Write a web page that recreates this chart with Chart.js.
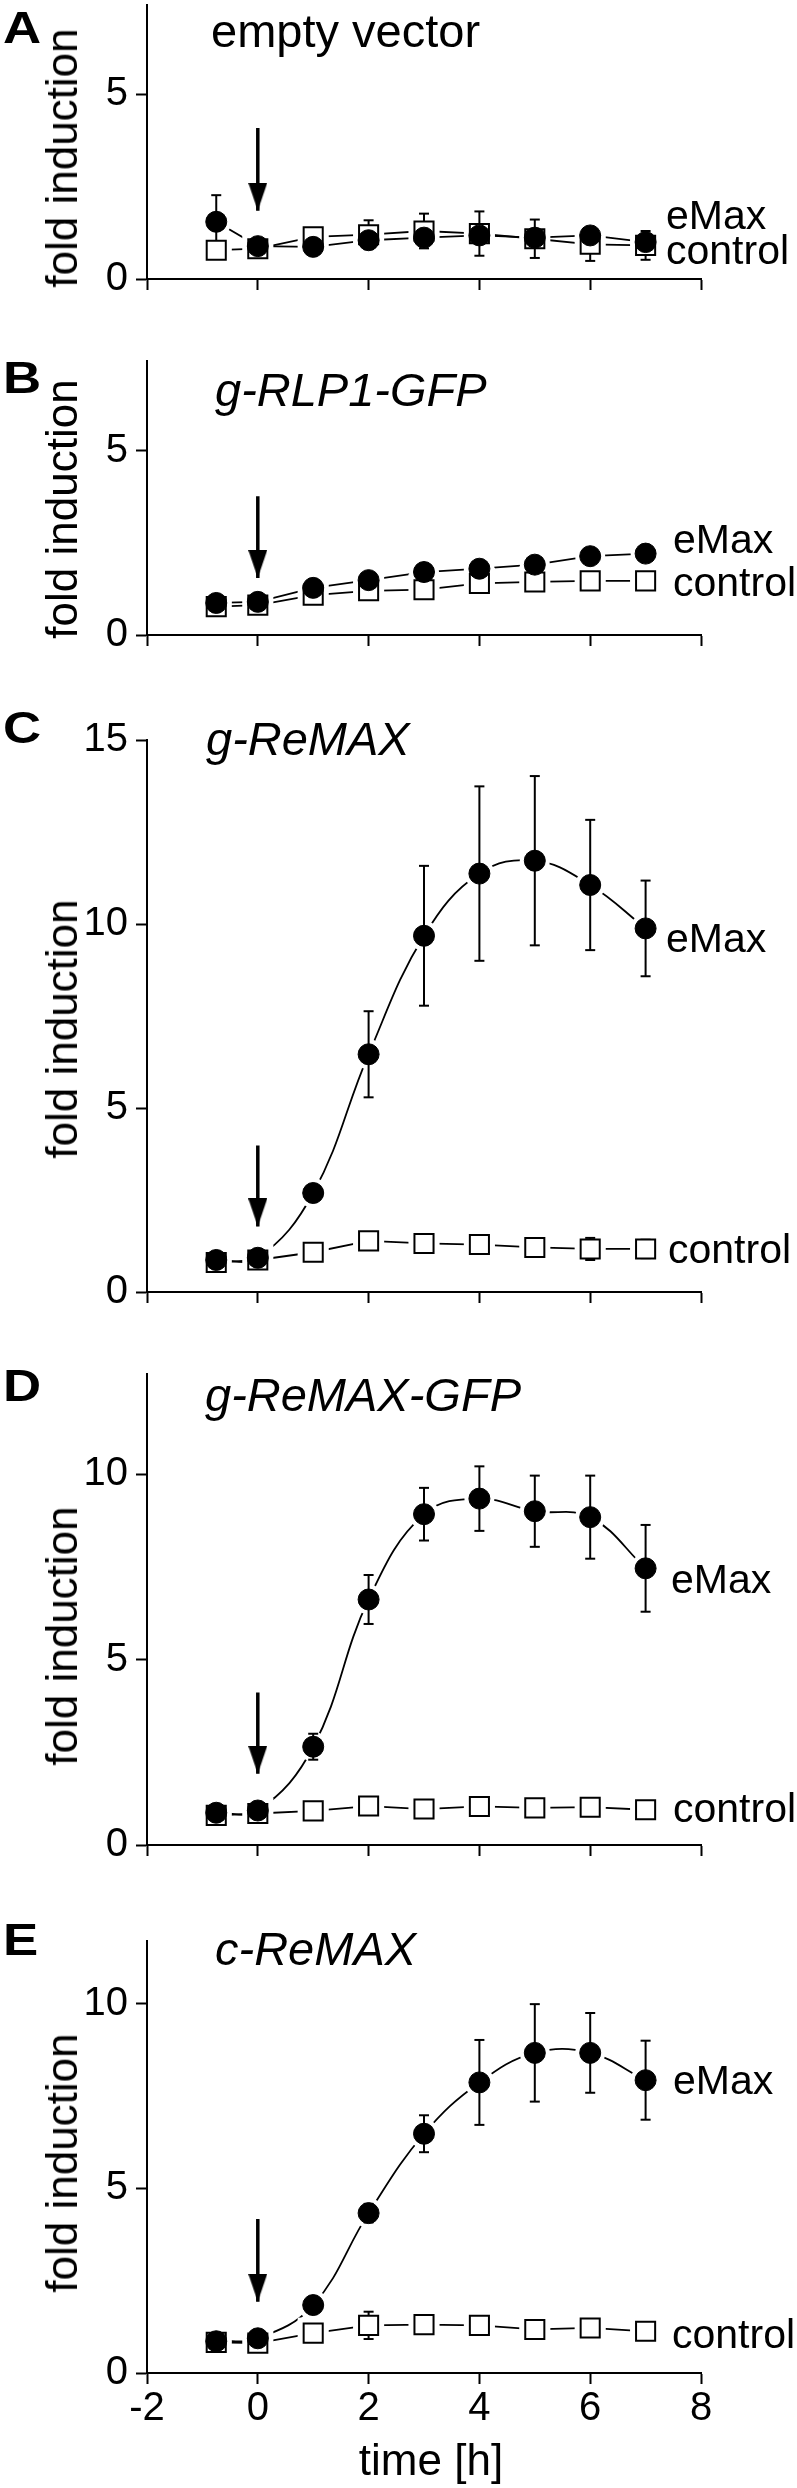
<!DOCTYPE html>
<html>
<head>
<meta charset="utf-8">
<script src="https://cdn.jsdelivr.net/npm/chart.js@4.4.1/dist/chart.umd.min.js"></script>
<style>
html,body{margin:0;padding:0;background:#fff;}
body{width:797px;height:2488px;position:relative;overflow:hidden;font-family:"Liberation Sans",Arial,Helvetica,sans-serif;color:#000;}
canvas{position:absolute;left:0;}
.t{position:absolute;white-space:nowrap;line-height:1;margin:0;padding:0;}
</style>
</head>
<body>
<script>
// ---------------- data ----------------
const timePoints = [-0.75, 0, 1, 2, 3, 4, 5, 6, 7];
const xTicks = [-2, 0, 2, 4, 6, 8];
const xAxisTitle = 'time [h]';
const yAxisTitle = 'fold induction';
const seriesNames = ['eMax', 'control'];
const panelLetters = ['A', 'B', 'C', 'D', 'E'];
const panelTitles = ['empty vector', 'g-RLP1-GFP', 'g-ReMAX', 'g-ReMAX-GFP', 'c-ReMAX'];

// A: empty vector
const eMaxA = [1.55, 0.89, 0.87, 1.05, 1.12, 1.18, 1.12, 1.18, 1.00];
const eMaxErrA = [0.72, 0, 0, 0, 0, 0, 0, 0, 0];
const controlA = [0.78, 0.82, 1.14, 1.20, 1.30, 1.23, 1.09, 0.94, 0.91];
const controlErrA = [0, 0, 0, 0.39, 0.47, 0.60, 0.52, 0.45, 0.39];
const yTicksA = [0, 5];
const yMaxA = 7.42;
const arrowA = [4.09, 1.85];

// B: g-RLP1-GFP
const eMaxB = [0.87, 0.90, 1.28, 1.49, 1.71, 1.80, 1.91, 2.14, 2.21];
const eMaxErrB = [0, 0, 0, 0, 0, 0, 0, 0, 0];
const controlB = [0.77, 0.81, 1.08, 1.20, 1.23, 1.40, 1.44, 1.47, 1.47];
const controlErrB = [0, 0, 0, 0, 0, 0, 0, 0, 0];
const yTicksB = [0, 5];
const yMaxB = 7.44;
const arrowB = [3.77, 1.55];

// C: g-ReMAX
const eMaxC = [0.87, 0.93, 2.69, 6.46, 9.68, 11.37, 11.72, 11.06, 9.88];
const eMaxErrC = [0, 0, 0, 1.17, 1.90, 2.37, 2.30, 1.77, 1.30];
const controlC = [0.80, 0.87, 1.08, 1.39, 1.32, 1.29, 1.21, 1.17, 1.17];
const controlErrC = [0, 0, 0, 0, 0, 0.10, 0.12, 0.30, 0.25];
const yTicksC = [0, 5, 10, 15];
const yMaxC = 15;
const arrowC = [3.98, 1.78];

// D: g-ReMAX-GFP
const eMaxD = [0.87, 0.93, 2.65, 6.62, 8.92, 9.34, 9.00, 8.84, 7.46];
const eMaxErrD = [0, 0, 0.35, 0.66, 0.71, 0.87, 0.96, 1.12, 1.17];
const controlD = [0.80, 0.85, 0.92, 1.05, 0.97, 1.04, 1.00, 1.02, 0.95];
const controlErrD = [0, 0, 0, 0, 0, 0.12, 0, 0, 0];
const yTicksD = [0, 5, 10];
const yMaxD = 12.7;
const arrowD = [4.11, 1.92];

// E: c-ReMAX
const eMaxE = [0.86, 0.94, 1.84, 4.33, 6.48, 7.87, 8.67, 8.67, 7.93];
const eMaxErrE = [0, 0, 0, 0.25, 0.50, 1.15, 1.32, 1.08, 1.07];
const controlE = [0.83, 0.81, 1.08, 1.29, 1.31, 1.29, 1.18, 1.22, 1.13];
const controlErrE = [0, 0, 0, 0.37, 0.20, 0.10, 0, 0, 0.05];
const yTicksE = [0, 5, 10];
const yMaxE = 11.7;
const arrowE = [4.17, 1.93];

// ---------------- layout / style ----------------
const FONT = '"Liberation Sans", Arial, Helvetica, sans-serif';
const PLOT_LEFT = 147, PLOT_RIGHT = 701, PAGE_W = 797;
const PAD_TOP = 30, BOTTOM_H = 75;

const panels = [
  {eMax: eMaxA, eMaxErr: eMaxErrA, control: controlA, controlErr: controlErrA, yTicks: yTicksA, yMax: yMaxA, arrow: arrowA,
   smooth: false, showX: false, top: 3, zero: 279,
   letterB: 43, titleX: 211, titleB: 47, italic: false, foldY: 158,
   eMaxLbl: [666, 230], ctrlLbl: [666, 265]},
  {eMax: eMaxB, eMaxErr: eMaxErrB, control: controlB, controlErr: controlErrB, yTicks: yTicksB, yMax: yMaxB, arrow: arrowB,
   smooth: false, showX: false, top: 359, zero: 635,
   letterB: 393, titleX: 215, titleB: 406, italic: true, foldY: 509,
   eMaxLbl: [673, 554], ctrlLbl: [673, 597]},
  {eMax: eMaxC, eMaxErr: eMaxErrC, control: controlC, controlErr: controlErrC, yTicks: yTicksC, yMax: yMaxC, arrow: arrowC,
   smooth: true, showX: false, top: 738, zero: 1292,
   letterB: 743, titleX: 206, titleB: 755, italic: true, foldY: 1029,
   eMaxLbl: [666, 953], ctrlLbl: [668, 1264]},
  {eMax: eMaxD, eMaxErr: eMaxErrD, control: controlD, controlErr: controlErrD, yTicks: yTicksD, yMax: yMaxD, arrow: arrowD,
   smooth: true, showX: false, top: 1372, zero: 1845,
   letterB: 1401, titleX: 205, titleB: 1411, italic: true, foldY: 1636,
   eMaxLbl: [671, 1594], ctrlLbl: [673, 1823]},
  {eMax: eMaxE, eMaxErr: eMaxErrE, control: controlE, controlErr: controlErrE, yTicks: yTicksE, yMax: yMaxE, arrow: arrowE,
   smooth: true, showX: true, top: 1939, zero: 2373,
   letterB: 1955, titleX: 215, titleB: 1965, italic: true, foldY: 2163,
   eMaxLbl: [673, 2095], ctrlLbl: [672, 2349]}
];

// ---------------- helpers ----------------
function pts(vals) { return timePoints.map((t, i) => ({x: t, y: vals[i]})); }
function errPts(vals, errs) {
  const out = [];
  timePoints.forEach((t, i) => {
    if (errs[i] > 0) {
      out.push({x: t, y: vals[i] - errs[i]}, {x: t, y: vals[i] + errs[i]}, {x: t, y: null});
    }
  });
  return out;
}
function addText(txt, left, baseline, size, opts) {
  opts = opts || {};
  const d = document.createElement('div');
  d.className = 't';
  d.textContent = txt;
  d.style.fontSize = size + 'px';
  d.style.left = left + 'px';
  d.style.top = (baseline - 0.8465 * size) + 'px';
  if (opts.bold) d.style.fontWeight = 'bold';
  if (opts.italic) d.style.fontStyle = 'italic';
  if (opts.center) d.style.transform = 'translateX(-50%)';
  if (opts.wide) { d.style.transformOrigin = 'left center'; d.style.transform = 'scaleX(' + opts.wide + ')'; }
  document.body.appendChild(d);
}
function addRotated(txt, baselineX, centerY, size) {
  const d = document.createElement('div');
  d.className = 't';
  d.textContent = txt;
  d.style.fontSize = size + 'px';
  const cx = baselineX - 0.3465 * size;
  d.style.left = cx + 'px';
  d.style.top = centerY + 'px';
  d.style.transform = 'translate(-50%,-50%) rotate(-90deg)';
  document.body.appendChild(d);
}

// arrow head image (tip at the image centre)
const head = document.createElement('canvas');
head.width = 19; head.height = 56;
(function () {
  const c = head.getContext('2d');
  c.fillStyle = '#000';
  c.beginPath();
  c.moveTo(0, 0); c.lineTo(19, 0); c.lineTo(9.5, 28); c.closePath();
  c.fill();
})();

function axisCommon(showLabels) {
  return {
    type: 'linear',
    grid: {display: true, drawOnChartArea: false, drawTicks: true, tickLength: 11, tickWidth: 2, tickColor: '#000'},
    border: {display: true, color: '#000', width: 2},
    ticks: {display: showLabels, color: '#000', font: {family: FONT, size: 40}, autoSkip: false, maxRotation: 0}
  };
}

function makePanel(p, idx) {
  const h = (p.zero - p.top) + PAD_TOP + BOTTOM_H;
  const cv = document.createElement('canvas');
  cv.width = PAGE_W; cv.height = h;
  cv.style.width = PAGE_W + 'px'; cv.style.height = h + 'px';
  cv.style.top = (p.top - PAD_TOP) + 'px';
  document.body.appendChild(cv);

  const datasets = [
    {data: pts(p.control), showLine: true, tension: 0, borderColor: '#000', borderWidth: 1.8, pointRadius: 0, order: 10, clip: false},
    {data: pts(p.eMax), showLine: true, tension: p.smooth ? 0.4 : 0, borderColor: '#000', borderWidth: 1.8, pointRadius: 0, order: 9, clip: false},
    {data: pts(p.control), showLine: false, pointStyle: 'rect', pointRadius: 22, pointBackgroundColor: '#fff', pointBorderWidth: 0, pointBorderColor: '#fff', order: 8, clip: false},
    {data: pts(p.eMax), showLine: false, pointStyle: 'circle', pointRadius: 15, pointBackgroundColor: '#fff', pointBorderWidth: 0, pointBorderColor: '#fff', order: 7, clip: false},
    {data: errPts(p.control, p.controlErr), showLine: true, spanGaps: false, borderColor: '#000', borderWidth: 2, pointStyle: 'line', pointRadius: 5, pointBorderWidth: 2, pointBorderColor: '#000', order: 6, clip: false},
    {data: errPts(p.eMax, p.eMaxErr), showLine: true, spanGaps: false, borderColor: '#000', borderWidth: 2, pointStyle: 'line', pointRadius: 5, pointBorderWidth: 2, pointBorderColor: '#000', order: 5, clip: false},
    {data: pts(p.control), showLine: false, pointStyle: 'rect', pointRadius: 13.5, pointBackgroundColor: '#fff', pointBorderColor: '#000', pointBorderWidth: 2, order: 4, clip: false},
    {data: pts(p.eMax), showLine: false, pointStyle: 'circle', pointRadius: 10.5, pointBackgroundColor: '#000', pointBorderColor: '#000', pointBorderWidth: 1, order: 3, clip: false},
    {data: [{x: 0, y: p.arrow[0]}, {x: 0, y: p.arrow[1]}], showLine: true, borderColor: '#000', borderWidth: 3.5,
     pointStyle: [false, head], pointRadius: [0, 5], pointBorderWidth: 0, order: 1, clip: false}
  ];

  const xScale = axisCommon(p.showX);
  xScale.min = -2; xScale.max = 8;
  xScale.ticks.padding = 1;
  xScale.afterBuildTicks = s => { s.ticks = xTicks.map(v => ({value: v})); };
  xScale.afterFit = s => { s.height = BOTTOM_H; };

  const yScale = axisCommon(true);
  yScale.min = 0; yScale.max = p.yMax;
  yScale.ticks.padding = 8;
  yScale.afterBuildTicks = s => { s.ticks = p.yTicks.map(v => ({value: v})); };
  yScale.afterFit = s => { s.width = PLOT_LEFT; };

  new Chart(cv, {
    type: 'scatter',
    data: {datasets},
    options: {
      responsive: false, animation: false, events: [],
      layout: {padding: {top: PAD_TOP, right: PAGE_W - PLOT_RIGHT, left: 0, bottom: 0}},
      plugins: {legend: {display: false}, tooltip: {enabled: false}},
      scales: {x: xScale, y: yScale}
    }
  });

  // texts
  addText(panelLetters[idx], 3, p.letterB, 44, {bold: true, wide: 1.2});
  addText(panelTitles[idx], p.titleX, p.titleB, 47, {italic: p.italic});
  addRotated(yAxisTitle, 77, p.foldY, 44);
  addText(seriesNames[0], p.eMaxLbl[0], p.eMaxLbl[1], 41);
  addText(seriesNames[1], p.ctrlLbl[0], p.ctrlLbl[1], 41);
}

panels.forEach(makePanel);
addText(xAxisTitle, 431, 2475, 44, {center: true});
</script>
</body>
</html>
